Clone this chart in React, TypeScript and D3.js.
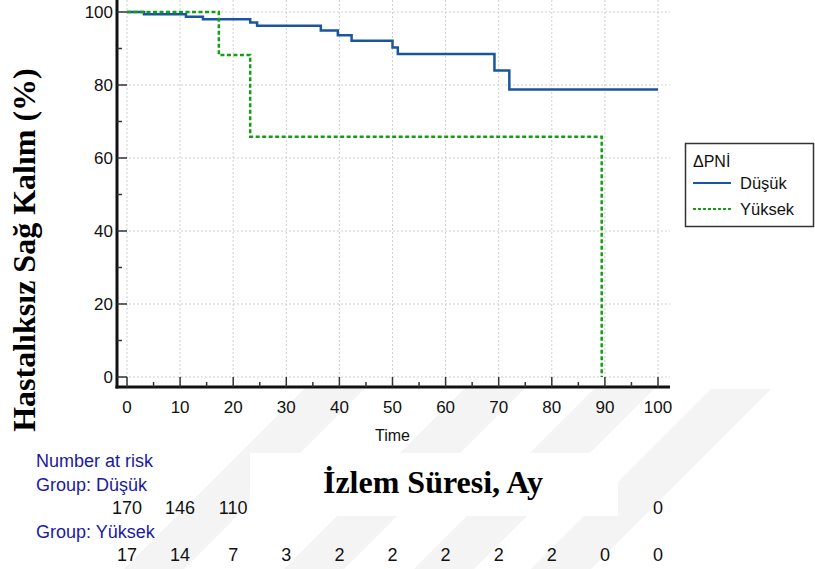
import React, { useRef, useEffect } from "react";
import * as d3 from "d3";

// Kaplan-Meier steps
const dusukTimes = [0, 3.2, 11.1, 14.3, 23.2, 24.5, 36.5, 39.7, 42.3, 50, 51, 69.2, 72, 100];
const dusukSurvival = [100, 99.4, 98.7, 98, 97.1, 96.2, 94.9, 93.6, 92.1, 90.3, 88.5, 84, 78.8, 78.8];
const yuksekTimes = [0, 17.3, 23.2, 89.4];
const yuksekSurvival = [100, 88.2, 65.8, 0];

// number at risk table (hidden cells are null)
const riskTimes = [0, 10, 20, 30, 40, 50, 60, 70, 80, 90, 100];
const dusukAtRisk = [170, 146, 110, null, null, null, null, null, null, null, 0];
const yuksekAtRisk = [17, 14, 7, 3, 2, 2, 2, 2, 2, 0, 0];

const groups = ["Düşük", "Yüksek"];
const groupColors = ["#1a56a0", "#12a012"];

// faint diagonal watermark bands: x position at bottom edge
const watermarkBands = [124, 284, 414, 531];

const W = 815;
const H = 569;
const SANS = "'Liberation Sans', Arial, sans-serif";
const SERIF = "'Liberation Serif', 'Times New Roman', serif";

const App = () => {
  const ref = useRef<SVGSVGElement>(null);

  useEffect(() => {
    const svg = d3.select(ref.current);
    svg.selectAll("*").remove();

    const x = d3.scaleLinear().domain([0, 100]).range([127, 658]);
    const y = d3.scaleLinear().domain([0, 100]).range([377, 12]);
    const axisX = 117;
    const axisY = 387;

    // watermark
    const wm = svg.append("g");
    watermarkBands.forEach((bx) => {
      const top = 388;
      const dy = H - top;
      wm.append("path")
        .attr("d", `M${bx},${H} L${bx + 60},${H} L${bx + 60 + dy},${top} L${bx + dy},${top} Z`)
        .attr("fill", "#f4f4f4");
    });

    // white backgrounds
    svg.append("rect").attr("x", 0).attr("y", 0).attr("width", W).attr("height", 389).attr("fill", "#fff");
    svg.append("rect").attr("x", 0).attr("y", 0).attr("width", 83).attr("height", 445).attr("fill", "#fff");
    svg.append("rect").attr("x", 250).attr("y", 453).attr("width", 368).attr("height", 63).attr("fill", "#fff");

    // grid
    const grid = svg.append("g").attr("stroke", "#cfcfcf").attr("stroke-width", 1).attr("stroke-dasharray", "2,2");
    d3.range(0, 101, 10).forEach((t) => {
      grid.append("line").attr("x1", x(t)).attr("x2", x(t)).attr("y1", 0).attr("y2", axisY);
    });
    d3.range(0, 101, 20).forEach((v) => {
      grid.append("line").attr("x1", axisX).attr("x2", 670).attr("y1", y(v)).attr("y2", y(v));
    });

    // curves
    const line = d3
      .line<[number, number]>()
      .x((d) => x(d[0]))
      .y((d) => y(d[1]))
      .curve(d3.curveStepAfter);

    const dusukPts = dusukTimes.map((t, i) => [t, dusukSurvival[i]] as [number, number]);
    const yuksekPts = yuksekTimes.map((t, i) => [t, yuksekSurvival[i]] as [number, number]);

    svg.append("path")
      .attr("d", line(dusukPts))
      .attr("fill", "none")
      .attr("stroke", groupColors[0])
      .attr("stroke-width", 2.5);
    svg.append("path")
      .attr("d", line(yuksekPts))
      .attr("fill", "none")
      .attr("stroke", groupColors[1])
      .attr("stroke-width", 2.5)
      .attr("stroke-dasharray", "4,2.5");

    // axes
    svg.append("line").attr("x1", axisX).attr("x2", axisX).attr("y1", 0).attr("y2", axisY + 1.5)
      .attr("stroke", "#111").attr("stroke-width", 3);
    svg.append("line").attr("x1", axisX - 1.5).attr("x2", 670).attr("y1", axisY).attr("y2", axisY)
      .attr("stroke", "#111").attr("stroke-width", 3);

    const ticks = svg.append("g").attr("stroke", "#333").attr("stroke-width", 1.5);
    d3.range(0, 101, 5).forEach((t) => {
      const len = t % 10 === 0 ? 10 : 5;
      ticks.append("line").attr("x1", x(t)).attr("x2", x(t)).attr("y1", axisY).attr("y2", axisY - len);
    });
    d3.range(0, 101, 10).forEach((v) => {
      const len = v % 20 === 0 ? 10 : 5;
      ticks.append("line").attr("x1", axisX).attr("x2", axisX + len).attr("y1", y(v)).attr("y2", y(v));
    });

    // tick labels
    d3.range(0, 101, 10).forEach((t) => {
      svg.append("text")
        .attr("x", x(t)).attr("y", 413)
        .attr("text-anchor", "middle")
        .style("font-family", SANS).style("font-size", "17px").attr("fill", "#111")
        .text(t);
    });
    d3.range(0, 101, 20).forEach((v) => {
      svg.append("text")
        .attr("x", 113).attr("y", y(v) + 6)
        .attr("text-anchor", "end")
        .style("font-family", SANS).style("font-size", "17px").attr("fill", "#111")
        .text(v);
    });

    svg.append("text")
      .attr("x", x(50)).attr("y", 441)
      .attr("text-anchor", "middle")
      .style("font-family", SANS).style("font-size", "16px").attr("fill", "#111")
      .text("Time");

    // axis titles
    svg.append("text")
      .attr("transform", "translate(35,250) rotate(-90)")
      .attr("text-anchor", "middle")
      .style("font-family", SERIF).style("font-size", "32px").style("font-weight", "bold")
      .attr("fill", "#000")
      .text("Hastalıksız Sağ Kalım (%)");
    svg.append("text")
      .attr("x", 433).attr("y", 493)
      .attr("text-anchor", "middle")
      .style("font-family", SERIF).style("font-size", "32px").style("font-weight", "bold")
      .attr("fill", "#000")
      .text("İzlem Süresi, Ay");

    // legend
    const lg = svg.append("g");
    lg.append("rect").attr("x", 685.5).attr("y", 143.5).attr("width", 128).attr("height", 83)
      .attr("fill", "#fff").attr("stroke", "#333").attr("stroke-width", 1.5);
    lg.append("text").attr("x", 693).attr("y", 167)
      .style("font-family", SANS).style("font-size", "16px").attr("fill", "#111").text("ΔPNİ");
    groups.forEach((g, i) => {
      const ly = 183 + i * 26;
      lg.append("line").attr("x1", 693).attr("x2", 731).attr("y1", ly).attr("y2", ly)
        .attr("stroke", groupColors[i]).attr("stroke-width", 2)
        .attr("stroke-dasharray", i === 1 ? "3,2" : null);
      lg.append("text").attr("x", 740).attr("y", ly + 6)
        .style("font-family", SANS).style("font-size", "16.5px").attr("fill", "#111").text(g);
    });

    // number at risk
    const riskBlue = "#1a1aa0";
    const riskLabels: [string, number][] = [
      ["Number at risk", 467],
      ["Group: Düşük", 491],
      ["Group: Yüksek", 538],
    ];
    riskLabels.forEach(([s, ty]) => {
      svg.append("text").attr("x", 36).attr("y", ty)
        .style("font-family", SANS).style("font-size", "18px").attr("fill", riskBlue).text(s);
    });
    const rows: [(number | null)[], number][] = [
      [dusukAtRisk, 514],
      [yuksekAtRisk, 561],
    ];
    rows.forEach(([vals, ty]) => {
      vals.forEach((v, i) => {
        if (v === null) return;
        svg.append("text").attr("x", x(riskTimes[i])).attr("y", ty)
          .attr("text-anchor", "middle")
          .style("font-family", SANS).style("font-size", "18px").attr("fill", "#111")
          .text(v);
      });
    });
  }, []);

  return (
    <div style={{ position: "absolute", left: 0, top: 0 }}>
      <svg ref={ref} width={W} height={H} style={{ display: "block", background: "#fff" }}></svg>
    </div>
  );
};

export default App;
